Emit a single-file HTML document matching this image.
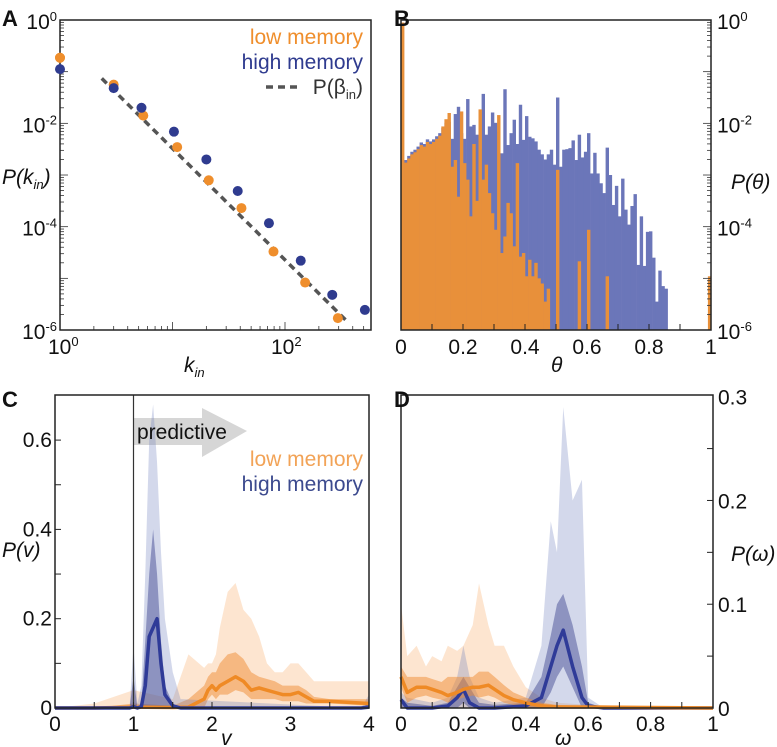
<!DOCTYPE html>
<html><head><meta charset="utf-8"><style>
body{margin:0;background:#fff}
svg{display:block;font-family:"Liberation Sans",sans-serif}
</style></head><body>
<svg id="fig" width="777" height="747" viewBox="0 0 777 747" xmlns="http://www.w3.org/2000/svg"></svg>
<script>
// ---------- Panel A data ----------
const kLow=[1,3,5.5,11,21,41,79,151,295];
const pLow=[0.186,0.056,0.0141,0.00347,0.00079,0.000229,0.000033,0.0000083,0.0000017];
const kHigh=[1,3,5.3,10.3,20,38,72,138,263,513];
const pHigh=[0.112,0.048,0.020,0.0069,0.0020,0.00049,0.000117,0.000022,0.0000048,0.00000245];
const fitK=[2.35,355];
const fitP=[0.074,0.00000148];
// ---------- Panel B data (log10 P per bin of 0.01) ----------
const thetaBlue=[-2.75,-2.71,-2.63,-2.55,-2.51,-2.45,-2.37,-2.40,-2.31,-2.35,-2.31,-2.25,-2.19,-2.09,-1.99,-1.97,-2.30,-1.82,-1.68,-2.19,-2.30,-1.53,-2.06,-2.03,-2.22,-2.50,-1.43,-2.22,-2.06,-1.79,-1.99,-2.16,-2.58,-1.34,-2.42,-2.19,-1.93,-2.40,-1.64,-2.32,-1.86,-2.26,-2.29,-2.35,-2.51,-2.60,-2.70,-2.60,-2.51,-2.80,-1.50,-2.84,-2.51,-2.50,-2.48,-2.33,-2.71,-2.22,-2.66,-2.55,-2.19,-2.97,-2.57,-2.97,-3.16,-3.35,-2.47,-3.00,-3.58,-3.21,-3.80,-3.07,-3.67,-3.96,-3.60,-3.37,-4.74,-3.80,-4.76,-4.10,-4.09,-4.60,-5.45,-4.85,-5.15,-5.20,null,null,null,null,null,null,null,null,null,null,null,null,null,null];
const thetaLow=[-0.05,-2.76,-2.68,-2.60,-2.56,-2.50,-2.42,-2.45,-2.36,-2.40,-2.36,-2.30,-2.24,-2.06,-1.92,-1.80,-2.84,-2.71,-3.42,-1.77,-2.77,-3.09,-3.80,-2.40,-3.50,-1.73,-3.09,-2.80,-3.35,-3.74,-4.06,-1.84,-4.51,-4.19,-3.54,-3.74,-4.38,-2.77,-4.58,-4.51,-4.96,-4.64,-4.96,-4.70,-5.00,-5.10,-5.45,-5.20,null,null,-2.90,null,null,null,null,null,null,-4.67,null,null,-4.06,null,null,null,null,null,-4.96,null,null,null,null,null,null,null,null,null,null,null,null,null,null,null,null,null,null,null,null,null,null,null,null,null,null,null,null,null,null,null,null,-4.96];
// ---------- Panel C data ----------
const vBlue=[0,0.95,1.0,1.05,1.1,1.15,1.2,1.25,1.3,1.35,1.4,1.5,1.6,3.9,4];
const cBlueMean=[0,0,0.003,0,0.003,0.05,0.16,0.18,0.2,0.1,0.03,0.005,0,0,0.002];
const cBlueInner=[0,0,0.07,0,0.01,0.15,0.3,0.40,0.3,0.15,0.05,0.01,0,0,0.01];
const cBlueOuter=[0,0,0.14,0.01,0.05,0.3,0.6,0.68,0.55,0.35,0.2,0.08,0.02,0,0.03];
const vLow=[0,0.5,1.0,1.5,1.7,1.9,1.95,2.0,2.05,2.1,2.2,2.3,2.4,2.5,2.6,2.7,2.8,2.9,3.0,3.1,3.2,3.3,3.5,4];
const cLowMean=[0,0,0.002,0.001,0.002,0.02,0.04,0.05,0.04,0.05,0.06,0.07,0.06,0.04,0.045,0.04,0.035,0.03,0.03,0.035,0.025,0.015,0.015,0.01];
const cLowInnerUp=[0,0,0.01,0.005,0.02,0.05,0.07,0.08,0.08,0.1,0.12,0.125,0.11,0.08,0.07,0.065,0.06,0.05,0.05,0.05,0.04,0.025,0.02,0.02];
const cLowInnerLo=[0,0,0,0,0,0,0.02,0.03,0.02,0.03,0.03,0.04,0.035,0.02,0.02,0.02,0.02,0.015,0.015,0.015,0.01,0.01,0.01,0.005];
const cLowOuter=[0,0.01,0.04,0.02,0.12,0.09,0.1,0.1,0.12,0.18,0.26,0.28,0.22,0.2,0.16,0.1,0.08,0.08,0.1,0.1,0.08,0.06,0.06,0.06];
// ---------- Panel D data ----------
const wBlue=[0,0.02,0.1,0.15,0.18,0.2,0.22,0.25,0.3,0.4,0.45,0.48,0.5,0.52,0.55,0.58,0.6,0.65,1];
const dBlueMean=[0.008,0,0,0.002,0.01,0.018,0.005,0,0,0.002,0.01,0.04,0.06,0.075,0.04,0.01,0.002,0,0];
const dBlueInnerUp=[0.01,0.005,0.002,0.005,0.02,0.03,0.02,0.005,0.003,0.005,0.03,0.07,0.1,0.11,0.08,0.04,0.005,0,0];
const dBlueInnerLo=[0,0,0,0,0,0.005,0,0,0,0,0,0.015,0.03,0.04,0.02,0,0,0,0];
const dBlueOuter=[0.015,0.01,0.005,0.01,0.03,0.06,0.03,0.01,0.005,0.01,0.06,0.18,0.15,0.29,0.2,0.22,0.01,0,0];
const wLow=[0,0.02,0.05,0.08,0.1,0.13,0.15,0.18,0.2,0.23,0.25,0.28,0.3,0.33,0.36,0.4,0.45,0.5,0.6,1];
const dLowMean=[0.03,0.015,0.02,0.02,0.018,0.015,0.012,0.015,0.018,0.02,0.02,0.022,0.018,0.012,0.008,0.005,0.002,0.001,0.001,0];
const dLowInnerUp=[0.04,0.03,0.03,0.03,0.028,0.025,0.03,0.03,0.03,0.03,0.035,0.035,0.03,0.022,0.015,0.01,0.005,0.003,0.002,0];
const dLowInnerLo=[0.02,0.005,0.01,0.012,0.01,0.008,0.005,0.008,0.01,0.012,0.01,0.012,0.01,0.005,0.003,0,0,0,0,0];
const dLowOuter=[0.1,0.05,0.06,0.04,0.05,0.045,0.06,0.055,0.06,0.08,0.12,0.08,0.06,0.06,0.04,0.02,0.01,0.005,0.003,0];

const NS="http://www.w3.org/2000/svg";
const svg=document.getElementById('fig');
function mk(tag,attrs,parent){const e=document.createElementNS(NS,tag);for(const k in attrs)e.setAttribute(k,attrs[k]);(parent||svg).appendChild(e);return e;}
function txt(x,y,s,attrs){const e=mk('text',Object.assign({x:x,y:y,'font-size':21,fill:'#111'},attrs||{}));e.innerHTML=s;return e;}
const OR='#ef8e2c', BL='#2f3b8f';

// ===== Panel A =====
const A={l:60,r:371,t:20,b:330};
const ax=k=>A.l+Math.log10(k)*112.5;
const ay=p=>A.t-Math.log10(p)*51.67;
let g=mk('g',{});


for(let d=0;d<6;d++)for(let m=1;m<10;m++){const y=ay(Math.pow(10,-d-1)*m*1);const len=m===1?8:4;mk('line',{x1:A.l,x2:A.l+len,y1:y,y2:y,stroke:'#333','stroke-width':0.8},g);}
for(let d=0;d<3;d++)for(let m=1;m<10;m++){const x=ax(Math.pow(10,d)*m);if(x>A.r)continue;const len=m===1?8:4;mk('line',{x1:x,x2:x,y1:A.b,y2:A.b-len,stroke:'#333','stroke-width':0.8},g);}
mk('rect',{x:A.l,y:A.t,width:A.r-A.l,height:A.b-A.t,fill:'none',stroke:'#222','stroke-width':1.5},g);
const fit=mk('line',{x1:ax(fitK[0]),y1:ay(fitP[0]),x2:ax(fitK[1]),y2:ay(fitP[1]),stroke:'#555','stroke-width':3.5,'stroke-dasharray':'7 5'},g);


kLow.forEach((k,i)=>{const c=mk('circle',{cx:ax(k),cy:ay(pLow[i]),r:5,fill:OR},g);

});
kHigh.forEach((k,i)=>{const c=mk('circle',{cx:ax(k),cy:ay(pHigh[i]),r:5,fill:BL},g);

});
mk('circle',{cx:ax(kLow[0]),cy:ay(pLow[0]),r:5,fill:OR},g);
[[0,'0'],[-2,'-2'],[-4,'-4'],[-6,'-6']].forEach(([e,s])=>{txt(A.l-3,A.t-e*51.67+9,'10<tspan dy="-8" font-size="13">'+s+'</tspan>',{'text-anchor':'end'});});
txt(A.l-12,354,'10<tspan dy="-8" font-size="13">0</tspan>',{});
txt(A.l+112.5*2-14,354,'10<tspan dy="-8" font-size="13">2</tspan>',{});
txt(184,372,'k<tspan dy="5" font-size="13">in</tspan>',{'font-style':'italic'});
txt(2,184,'P(k<tspan dy="5" font-size="13">in</tspan><tspan dy="-5">)</tspan>',{'font-style':'italic'});
txt(2,26,'A',{'font-weight':'bold','font-size':22});
txt(363,44,'low memory',{'text-anchor':'end',fill:OR});
txt(363,69,'high memory',{'text-anchor':'end',fill:BL});
mk('line',{x1:266,x2:302,y1:87,y2:87,stroke:'#555','stroke-width':3.5,'stroke-dasharray':'7 5'},g);
txt(363,94,'P(β<tspan dy="5" font-size="13">in</tspan><tspan dy="-5">)</tspan>',{'text-anchor':'end',fill:'#333'});

// ===== Panel B =====
const B={l:401,r:711,t:20,b:330};
const bx=t=>B.l+t*(B.r-B.l);
const by=lp=>B.t-lp*51.67;
g=mk('g',{});


const bw=(B.r-B.l)/100;
thetaBlue.forEach((v,i)=>{if(v===null)return;const r=mk('rect',{x:bx(i/100),y:by(v),width:bw+0.3,height:B.b-by(v),fill:'#6b76b9'},g);

});
thetaLow.forEach((v,i)=>{if(v===null)return;const r=mk('rect',{x:bx(i/100),y:by(v),width:bw+0.3,height:B.b-by(v),fill:'#e8903a'},g);

});
for(let d=0;d<6;d++)for(let m=1;m<10;m++){const y=by(Math.log10(Math.pow(10,-d-1)*m));const len=m===1?8:4;mk('line',{x1:B.r,x2:B.r-len,y1:y,y2:y,stroke:'#333','stroke-width':0.8},g);}
for(let i=1;i<10;i++){const x=bx(i/10);mk('line',{x1:x,x2:x,y1:B.b,y2:B.b-6,stroke:'#222','stroke-width':1},g);}
mk('rect',{x:B.l,y:B.t,width:B.r-B.l,height:B.b-B.t,fill:'none',stroke:'#222','stroke-width':1.5},g);
[[0,'0'],[-2,'-2'],[-4,'-4'],[-6,'-6']].forEach(([e,s])=>{txt(B.r+6,by(e)+9,'10<tspan dy="-8" font-size="13">'+s+'</tspan>',{});});
['0','0.2','0.4','0.6','0.8','1'].forEach((s,i)=>txt(bx(i*0.2),354,s,{'text-anchor':'middle'}));
txt(551,372,'θ',{'font-style':'italic'});
txt(731,189,'P(θ)',{'font-style':'italic'});
txt(394,26,'B',{'font-weight':'bold','font-size':22});

function bandPanel(P,xs,up,lo,fill,name){const pts=xs.map((x,i)=>P.x(x)+','+P.y(up[i]));const back=xs.map((x,i)=>P.x(x)+','+P.y(lo?lo[i]:0)).reverse();const e=mk('polygon',{points:pts.concat(back).join(' '),fill:fill},P.g);

}
function linePanel(P,xs,ys,col,name){const e=mk('polyline',{points:xs.map((x,i)=>P.x(x)+','+P.y(ys[i])).join(' '),fill:'none',stroke:col,'stroke-width':3.5,'stroke-linejoin':'round'},P.g);

}

// ===== Panel C =====
const C={l:55,r:369,t:395,b:708};
g=mk('g',{});


const PC={g:g,x:v=>C.l+v*(C.r-C.l)/4,y:p=>C.b-p*446.5};
const ar=mk('polygon',{points:[[134,418],[202,418],[202,408],[247,431],[202,457],[202,445],[134,445]].map(p=>p.join(',')).join(' '),fill:'#d6d6d6'},g);


txt(137,439,'predictive',{});
bandPanel(PC,vLow,cLowOuter,null,'rgba(248,170,100,0.3)','low-memory-outer-band');
bandPanel(PC,vLow,cLowInnerUp,cLowInnerLo,'rgba(240,140,50,0.5)','low-memory-inner-band');
bandPanel(PC,vBlue,cBlueOuter,null,'rgba(110,125,190,0.3)','high-memory-outer-band');
bandPanel(PC,vBlue,cBlueInner,null,'rgba(55,65,140,0.45)','high-memory-inner-band');
linePanel(PC,vLow,cLowMean,'#ef8a25','low-memory-mean-line');
linePanel(PC,vBlue,cBlueMean,'#2f3b98','high-memory-mean-line');
mk('line',{x1:PC.x(1),x2:PC.x(1),y1:C.t,y2:C.b,stroke:'#333','stroke-width':1.2},g);
for(let i=1;i<7;i++){const y=PC.y(i*0.1);mk('line',{x1:C.l,x2:C.l+6,y1:y,y2:y,stroke:'#222'},g);}
for(let i=1;i<8;i++){const x=PC.x(i*0.5);mk('line',{x1:x,x2:x,y1:C.b,y2:C.b-6,stroke:'#222'},g);}
mk('rect',{x:C.l,y:C.t,width:C.r-C.l,height:C.b-C.t,fill:'none',stroke:'#222','stroke-width':1.5},g);
[[0,'0'],[0.2,'0.2'],[0.4,'0.4'],[0.6,'0.6']].forEach(([v,s])=>txt(C.l-3,PC.y(v)+7,s,{'text-anchor':'end'}));
['0','1','2','3','4'].forEach((s,i)=>txt(PC.x(i),731,s,{'text-anchor':'middle'}));
txt(221,745,'v',{'font-style':'italic'});
txt(2,557,'P(v)',{'font-style':'italic'});
txt(2,407,'C',{'font-weight':'bold','font-size':22});
txt(363,466,'low memory',{'text-anchor':'end',fill:'#f2a357'});
txt(363,491,'high memory',{'text-anchor':'end',fill:'#3c4a8e'});

// ===== Panel D =====
const D={l:401,r:713,t:395,b:708};
g=mk('g',{});


const PD={g:g,x:w=>D.l+w*(D.r-D.l),y:p=>D.b-p*1037.7};
bandPanel(PD,wLow,dLowOuter,null,'rgba(248,170,100,0.3)','low-memory-outer-band');
bandPanel(PD,wBlue,dBlueOuter,null,'rgba(110,125,190,0.3)','high-memory-outer-band');
bandPanel(PD,wBlue,dBlueInnerUp,dBlueInnerLo,'rgba(55,65,140,0.45)','high-memory-inner-band');
bandPanel(PD,wLow,dLowInnerUp,dLowInnerLo,'rgba(240,140,50,0.5)','low-memory-inner-band');
linePanel(PD,wBlue,dBlueMean,'#2f3b98','high-memory-mean-line');
linePanel(PD,wLow,dLowMean,'#ef8a25','low-memory-mean-line');
for(let i=1;i<6;i++){const y=PD.y(i*0.05);mk('line',{x1:D.r,x2:D.r-6,y1:y,y2:y,stroke:'#222'},g);}
for(let i=1;i<10;i++){const x=PD.x(i*0.1);mk('line',{x1:x,x2:x,y1:D.b,y2:D.b-6,stroke:'#222'},g);}
mk('rect',{x:D.l,y:D.t,width:D.r-D.l,height:D.b-D.t,fill:'none',stroke:'#222','stroke-width':1.5},g);
[[0,'0'],[0.1,'0.1'],[0.2,'0.2'],[0.3,'0.3']].forEach(([v,s])=>txt(D.r+5,PD.y(v)+8,s,{}));
['0','0.2','0.4','0.6','0.8','1'].forEach((s,i)=>txt(PD.x(i*0.2),731,s,{'text-anchor':'middle'}));
txt(555,745,'ω',{'font-style':'italic'});
txt(731,561,'P(ω)',{'font-style':'italic'});
txt(394,407,'D',{'font-weight':'bold','font-size':22});
</script>
</body></html>
